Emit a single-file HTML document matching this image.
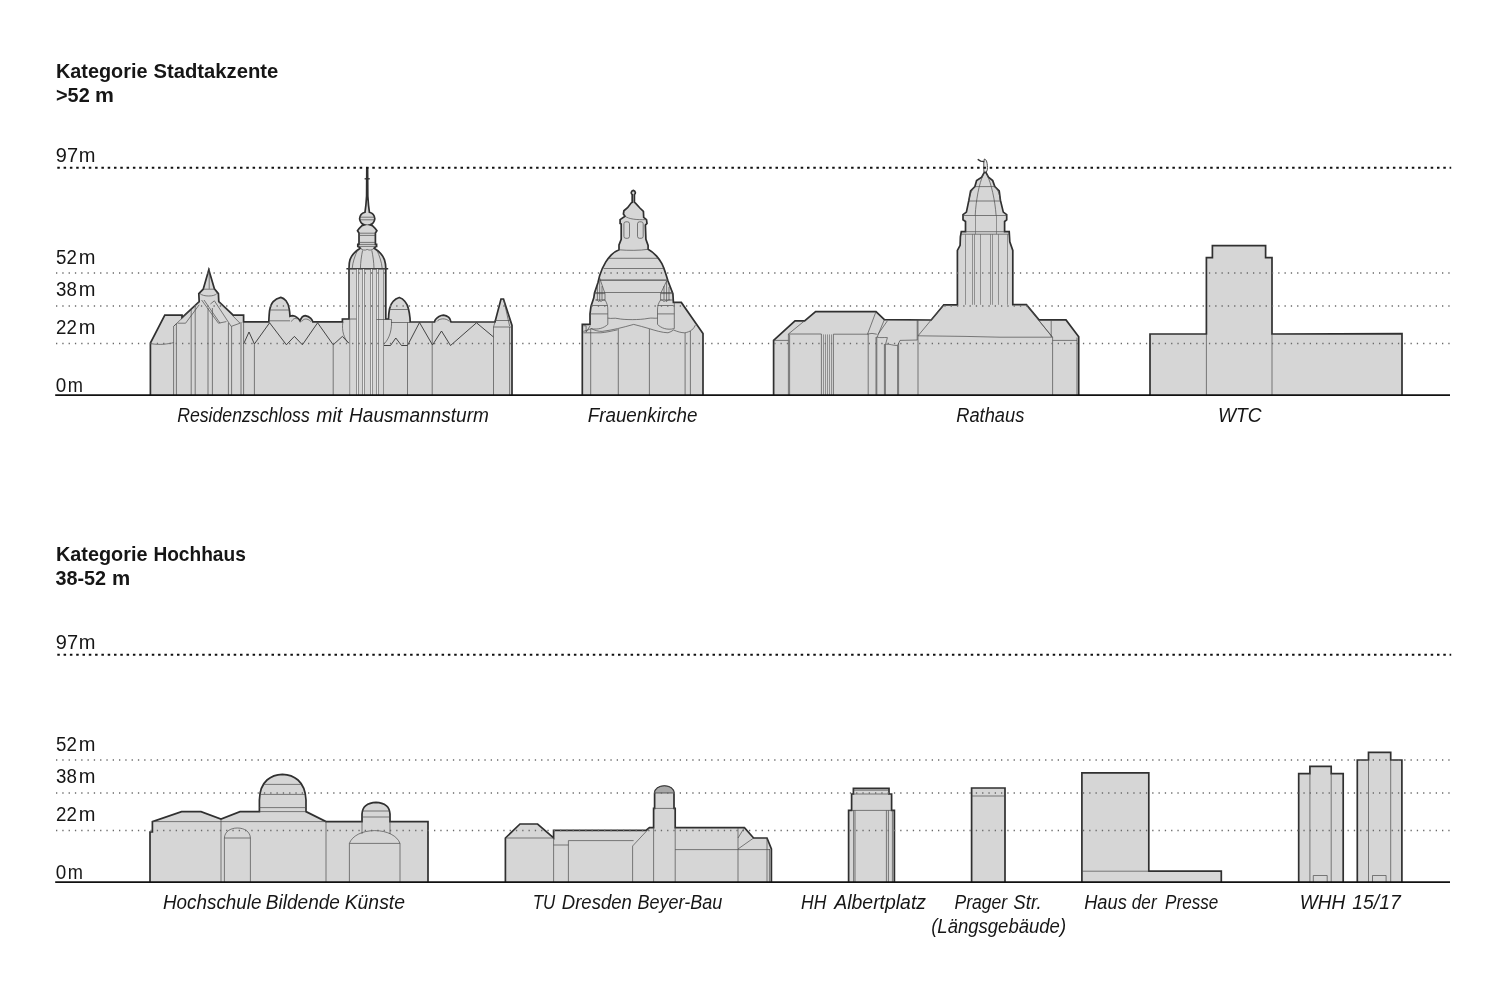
<!DOCTYPE html>
<html lang="de">
<head>
<meta charset="utf-8">
<title>Kategorie Stadtakzente / Hochhaus</title>
<style>
html,body{margin:0;padding:0;background:#fff;}
body{width:1500px;height:1000px;overflow:hidden;}
svg{display:block;}
text{font-family:"Liberation Sans",sans-serif;fill:#161616;}
.h{font-weight:bold;font-size:20.5px;}
.ax{font-size:20px;}
.lb{font-style:italic;font-size:19.5px;}
.o{fill:#d6d6d6;stroke:#303030;stroke-width:1.7;stroke-linejoin:miter;stroke-miterlimit:6;}
.i{fill:none;stroke:#4c4c4c;stroke-width:0.7;stroke-linejoin:round;}
.t{stroke-width:0.6;stroke:#606060;shape-rendering:crispEdges;}
.z{stroke-width:0.9;stroke:#333;}
.d1{stroke:#111;stroke-width:2;stroke-dasharray:2.5 3.8;fill:none;}
.d2{stroke:#6a6a6a;stroke-width:1.3;stroke-dasharray:1.3 5;fill:none;}
.g{stroke:#111;stroke-width:1.8;fill:none;}
</style>
</head>
<body>
<svg width="1500" height="1000" viewBox="0 0 1500 1000">
<rect width="1500" height="1000" fill="#fff"/>

<!-- ===== TEXT ===== -->
<text class="h" x="56" y="77.8" textLength="91.5" lengthAdjust="spacingAndGlyphs">Kategorie</text>
<text class="h" x="153.4" y="77.8" textLength="124.9" lengthAdjust="spacingAndGlyphs">Stadtakzente</text>
<text class="h" x="56" y="101.7" textLength="33.7" lengthAdjust="spacingAndGlyphs">&gt;52</text>
<text class="h" x="95" y="101.7" textLength="18.9" lengthAdjust="spacingAndGlyphs">m</text>
<text class="h" x="56" y="561" textLength="91.5" lengthAdjust="spacingAndGlyphs">Kategorie</text>
<text class="h" x="153.4" y="561" textLength="92.4" lengthAdjust="spacingAndGlyphs">Hochhaus</text>
<text class="h" x="55.4" y="584.6" textLength="50.7" lengthAdjust="spacingAndGlyphs">38-52</text>
<text class="h" x="112" y="584.6" textLength="18.2" lengthAdjust="spacingAndGlyphs">m</text>
<text class="ax" x="55.8" y="161.5" textLength="22.2" lengthAdjust="spacingAndGlyphs">97</text>
<text class="ax" x="78.8" y="161.5" textLength="16.7" lengthAdjust="spacingAndGlyphs">m</text>
<text class="ax" x="56" y="263.7" textLength="20.8" lengthAdjust="spacingAndGlyphs">52</text>
<text class="ax" x="78.7" y="263.7" textLength="16.7" lengthAdjust="spacingAndGlyphs">m</text>
<text class="ax" x="56" y="296.3" textLength="20.8" lengthAdjust="spacingAndGlyphs">38</text>
<text class="ax" x="78.7" y="296.3" textLength="16.7" lengthAdjust="spacingAndGlyphs">m</text>
<text class="ax" x="56" y="334" textLength="20.8" lengthAdjust="spacingAndGlyphs">22</text>
<text class="ax" x="78.7" y="334" textLength="16.7" lengthAdjust="spacingAndGlyphs">m</text>
<text class="ax" x="55.8" y="392.4" textLength="10.5" lengthAdjust="spacingAndGlyphs">0</text>
<text class="ax" x="67.8" y="392.4" textLength="15.2" lengthAdjust="spacingAndGlyphs">m</text>
<text class="ax" x="55.8" y="648.5" textLength="22.2" lengthAdjust="spacingAndGlyphs">97</text>
<text class="ax" x="78.8" y="648.5" textLength="16.7" lengthAdjust="spacingAndGlyphs">m</text>
<text class="ax" x="56" y="750.7" textLength="20.8" lengthAdjust="spacingAndGlyphs">52</text>
<text class="ax" x="78.7" y="750.7" textLength="16.7" lengthAdjust="spacingAndGlyphs">m</text>
<text class="ax" x="56" y="783.3" textLength="20.8" lengthAdjust="spacingAndGlyphs">38</text>
<text class="ax" x="78.7" y="783.3" textLength="16.7" lengthAdjust="spacingAndGlyphs">m</text>
<text class="ax" x="56" y="821" textLength="20.8" lengthAdjust="spacingAndGlyphs">22</text>
<text class="ax" x="78.7" y="821" textLength="16.7" lengthAdjust="spacingAndGlyphs">m</text>
<text class="ax" x="55.8" y="879.4" textLength="10.5" lengthAdjust="spacingAndGlyphs">0</text>
<text class="ax" x="67.8" y="879.4" textLength="15.2" lengthAdjust="spacingAndGlyphs">m</text>
<text class="lb" x="177.2" y="421.7" textLength="132.6" lengthAdjust="spacingAndGlyphs">Residenzschloss</text>
<text class="lb" x="316.3" y="421.7" textLength="26.0" lengthAdjust="spacingAndGlyphs">mit</text>
<text class="lb" x="349" y="421.7" textLength="139.9" lengthAdjust="spacingAndGlyphs">Hausmannsturm</text>
<text class="lb" x="587.7" y="421.7" textLength="109.8" lengthAdjust="spacingAndGlyphs">Frauenkirche</text>
<text class="lb" x="956.2" y="421.7" textLength="68.1" lengthAdjust="spacingAndGlyphs">Rathaus</text>
<text class="lb" x="1217.9" y="421.7" textLength="43.6" lengthAdjust="spacingAndGlyphs">WTC</text>
<text class="lb" x="163" y="908.6" textLength="98.4" lengthAdjust="spacingAndGlyphs">Hochschule</text>
<text class="lb" x="265.8" y="908.6" textLength="74.1" lengthAdjust="spacingAndGlyphs">Bildende</text>
<text class="lb" x="344.7" y="908.6" textLength="60.3" lengthAdjust="spacingAndGlyphs">Künste</text>
<text class="lb" x="532.8" y="908.6" textLength="22.5" lengthAdjust="spacingAndGlyphs">TU</text>
<text class="lb" x="561.8" y="908.6" textLength="70.1" lengthAdjust="spacingAndGlyphs">Dresden</text>
<text class="lb" x="637.4" y="908.6" textLength="84.9" lengthAdjust="spacingAndGlyphs">Beyer-Bau</text>
<text class="lb" x="801.1" y="908.6" textLength="25.3" lengthAdjust="spacingAndGlyphs">HH</text>
<text class="lb" x="834.3" y="908.6" textLength="91.7" lengthAdjust="spacingAndGlyphs">Albertplatz</text>
<text class="lb" x="954.5" y="908.6" textLength="52.7" lengthAdjust="spacingAndGlyphs">Prager</text>
<text class="lb" x="1013.3" y="908.6" textLength="28.3" lengthAdjust="spacingAndGlyphs">Str.</text>
<text class="lb" x="931.2" y="932.9" textLength="134.9" lengthAdjust="spacingAndGlyphs">(Längsgebäude)</text>
<text class="lb" x="1084.2" y="908.6" textLength="42.6" lengthAdjust="spacingAndGlyphs">Haus</text>
<text class="lb" x="1131.8" y="908.6" textLength="24.8" lengthAdjust="spacingAndGlyphs">der</text>
<text class="lb" x="1165.1" y="908.6" textLength="53.2" lengthAdjust="spacingAndGlyphs">Presse</text>
<text class="lb" x="1299.7" y="908.6" textLength="45.5" lengthAdjust="spacingAndGlyphs">WHH</text>
<text class="lb" x="1352.3" y="908.6" textLength="48.4" lengthAdjust="spacingAndGlyphs">15/17</text>

<!-- ===== SECTION 1 BUILDINGS ===== -->
<g id="s1">
<g id="schloss">
<path class="o" d="M150.4,395V343L164.8,315.2H182V317.6L199.2,301.6L198.8,293.6L203.2,289.2L208.8,269.8L214.4,288.8L218.4,293.6L218.8,301.6L233.2,315.2H243.6V321.8H268.8
C269,317 269.2,313.5 269.6,310.4C270.4,306 271.6,303.4 273.2,301.6C275.2,299.4 278,298 280.8,297.4C283,298 284.6,299.2 286,300.8C287.6,302.8 288.6,305.4 289.2,308.8C289.7,311.4 289.9,313.8 290,316.2
C291,315.8 291.8,315.6 292.6,315.6C294.4,315.8 295.9,316.5 297.2,317.6C298.4,318.5 299.3,319.6 300,320.8
C300.6,319.4 301.2,318.2 302,317.2C303,316.2 304.2,315.7 305.2,315.6C307.4,316 309.3,316.9 310.8,318.4C311.7,319.3 312.4,320.4 312.8,321.8
H342.4V319H349V268.4
C349,265 349.2,262.2 350,259.6C351.2,256.6 352.8,254.2 354.8,252.4C356.4,250.8 358.2,249.4 360.2,248.2
L358.2,246.4H357.8V244.4H359V233
L357.5,230.8C358.6,229 360.2,227.2 362,225.6L364.4,224.8
C362,224 360,221.6 359.6,218.8C359.8,215.4 362,213 365,212.2
C365.8,207 366.3,201 366.6,196L366.8,167.8H367.6L367.8,196
C368.1,201 368.6,207 369.4,212.2C372.4,213 374.6,215.4 374.8,218.8C374.4,221.6 372.4,224 370,224.8
L372.4,225.6C374.2,227.2 375.8,229 376.9,230.8L375.4,233V244.4H376.6V246.4H376.2L374.2,248.2
C376.2,249.4 378,250.8 379.6,252.4C381.6,254.2 383.2,256.6 384.4,259.6C385.2,262.2 385.8,265 385.8,268.4
V319H388.5C388.6,315 389,311.6 389.5,309C390.3,305.6 391.4,303.2 393,301.5C394.8,299.4 397,298.1 399.3,297.5C401.6,298.1 403.4,299.5 405,301.5C406.6,303.4 407.8,305.8 408.5,309C409.2,311.8 409.7,315 410,318L410.2,322H434.5
C434.7,321 435,320.2 435.5,319.5C436.5,318.2 437.7,317.2 439,316.5C440.4,315.8 441.9,315.3 443.5,315.2C445.4,315.5 447.1,316.1 448.5,317.2C449.4,318 450.1,319.2 450.5,320.5L451,322H495L501,299H503.5L512,325.5V395"/>
<path d="M346.4,268.8H388.2" stroke="#303030" stroke-width="1.5" fill="none"/>
<path d="M364.6,178.8H369.8" stroke="#303030" stroke-width="1.3" fill="none"/>
<!-- tower internals -->
<path d="M357.5,269.4V395M363.5,269.4V395M371.5,269.4V395M377.5,269.4V395" stroke="#e6e6e6" stroke-width="1" fill="none" shape-rendering="crispEdges"/>
<path class="i t" d="M356.5,269.4V395M358.5,269.4V395M362.5,269.4V395M364.5,269.4V395M370.5,269.4V395M372.5,269.4V395M376.5,269.4V395M378.5,269.4V395M383.5,269.4V395M349.7,319V395"/>
<path class="i" d="M348.2,268.6H386.2M359,244.4H375.4M358.2,246.4H376.2M359,233.2H375.4M359,235.4H375.4M359,242.4H375.4M360,217.2H374.4M360.2,219.8H374.2M364.4,224.8H370"/>
<path class="i" d="M360.2,248.2C362,250 365,250.8 367.2,249.4C369.4,250.8 372.4,250 374.2,248.2M357.6,250C354.8,256 352.8,262 352.2,268.4M362.6,250.4C361.4,256 360.6,262 360.4,268.4M371.8,250.4C373,256 373.8,262 374,268.4M376.8,250C379.6,256 381.6,262 382.2,268.4"/>
<path class="i" d="M342.4,319H356.3M376.5,319.5H391.5M342.8,322C341.6,331 344,338.6 348.8,343.2M391.5,319.5C392,329 390,338 384,344"/>
<!-- roof zig-zags -->
<path class="i z" d="M243.6,344L249,332L254.4,344L269.6,322.8L286.4,344.8L294.4,336.4L302.4,344.8L317.6,322.8L333.2,344.8L342.4,336.4L348.8,343.2"/>
<path class="i z" d="M384,345.5H390.5L395.8,338L401.5,345.5H407.5L419.5,322.5L432.5,345L441.5,331L450.5,345.5L476.5,322.8L493.5,337"/>
<path class="i" d="M241,322V395M243.6,321.8V395M254.4,344V395M333.2,344.8V395M407.5,322.5V395M432.2,322V395M493.5,327V395M509.6,327V395"/>
<!-- domes -->
<path class="i" d="M269.8,310H289.2M269,320.8H290M291.4,321.6C293,318.6 295.4,317.6 297.2,319.2M301.6,321.6C303.4,318.6 307.4,317.8 310.8,321.6M389.6,309.5H408.4M391,322.5H410M437,321.4C439,318.4 446,317.6 449.4,321.4"/>
<path class="i" d="M495,322L493.5,327H511.6M494.6,320.5H510.6M503.8,300L509.6,326"/>
<!-- left wing -->
<path class="i" d="M150.8,343.6C155,344.4 160,344.6 164,344.2C167.6,343.8 171,343.4 173.6,342.6M173.6,326.4V395M176.4,323.6V395M173.6,326.4L199.2,301.6M173.6,326.4L176.4,323.6M177.6,323.2H185.6L199.2,304.8M191.2,309.6V395M195.2,305.6V395M208,308V395M212.4,308V395M228.4,323V395M231.6,326.4V395"/>
<path class="i" d="M203.2,289.2H214.4M200,293.6C203,296.8 214.4,296.8 216.8,293.6M201.6,300L218.4,323.2L226.4,321.6M204,300L220,323.2M214.4,300.8L231.2,326.4L240,323.2M210.4,304L214.4,300.8M218.8,301.6L240,323.2M209.2,268V288.8"/>
</g>
<g id="frauenkirche">
<path class="o" d="M582.3,395V324.4H590V313.9L591,306.2L593.8,297.8L594.5,292.9L598,282.4L599.7,275.4
C601,271 603,266.6 605.8,261.9C607.6,259 609.4,256.8 611.3,254.8C613.6,252.6 616.2,251 619,249.8
V244.9L621.2,239.4V224L620.1,223.4V219.6L625,216.3L623.4,214.1L623.9,210.8L627.8,207.5L631.1,203.1
L632.2,202.4V194.6C630.8,193.6 630.8,191 633.3,190.4C635.8,191 635.8,193.6 634.4,194.6V202.4
L635.5,203.1L639.9,208L643.4,211.3L643.7,217.4L646.5,219.6L647,223.4L645.4,225.1L645.9,239.4L648.1,245.4V249.3
C651.2,251 653.8,253.2 656.4,255.9C658.6,258.4 660.4,261 661.9,263.6C663.4,266.6 664.6,270 665.7,273.5
L668,281L672.9,293.6L673.4,302.4H681.3L703,333.5V395"/>
<path class="i" d="M608.5,258.3H658M603.5,268.5H663.5M594.6,292.5H672.6M619,249.8C628,250.6 640,250.6 648.1,249.3M625,216.3C629,219 636,220 646.5,219.6"/>
<path d="M600,280.2H667.6" stroke="#555" stroke-width="1.3" fill="none"/>
<rect class="i" x="623.9" y="221.8" width="5.6" height="16.5" rx="2"/>
<rect class="i" x="637.5" y="221.8" width="5.7" height="16.5" rx="2"/>
<!-- left turret -->
<path class="i" d="M599.7,278.2L605,293.6V300C607,303 607.8,306 607.8,310V324.4C604,328 598,330 591,328.6M594.5,293.6H605M595.6,300H605M591,305.5H607.6M590,313.9H607.8M597.4,286V300M599.7,278.2V301M602,286V300M595.6,300C597,299.6 598,300.6 598.6,301.6C599.4,300.4 600.4,300.4 601,301.6C601.8,300.4 603.6,299.6 605,300"/>
<!-- right turret -->
<path class="i" d="M666.6,281L660.6,293.6V300C658.4,303 657.5,306 657.5,310V324.4C661,328 667,330.4 674.3,328.6M660.6,293.6H672.9M660.6,300H673.2M657.6,305.5H673.4M657.5,313.9H674.3M664,286V300M666.6,281V301M669,287V300M660.6,300C662,299.6 663.4,300.6 664,301.6C664.8,300.4 665.8,300.4 666.4,301.6C667.4,300.4 669,299.6 670.4,300M674.3,302.4V328.6"/>
<!-- wavy cornices -->
<path class="i" d="M607.8,318.1C612,319 614,317.6 618,318.6C624,320 640,320 648,318.4C652,317.6 654,318.6 657.5,318.1"/>
<path class="i" d="M583.3,331.4C586,330.8 588.6,329.8 591,328.6C595,330.4 598.6,331.6 602.2,331.4C607.6,330.6 612.6,329.8 617.6,328.6C623,327.4 628.6,325.8 633.7,324.4C639,325.6 644,327.2 649.1,328.6C655.6,330.6 662,332.6 668,332.8C670,332.2 671.8,331.2 673.6,330C677.4,331.6 681,332.8 684.8,332.8C687.4,332.4 689.8,331.4 691.8,330C693.4,328.6 694.6,327 695.4,325.1"/>
<path class="i" d="M583.3,332.8H600.8C606,332.4 612,331 617.6,329.8M583.3,325.8H586.1V332.2L590,326"/>
<path class="i" d="M590.7,329V395M618.3,329V395M649.4,329V395M685.1,333V395M690.4,331V395"/>
</g>
<g id="rathaus">
<path class="o" d="M773.6,395V340.4L795,320.8H804.6L815.6,311.6H876L884.4,319.6L931.2,320L943.8,304.8H957.4V250.4
L960.1,245.3L960.4,236.8L961.3,231.7H965.5V221.5L963,219.8V214.6L966.4,212.1L968.9,200.2L970.6,190.8L974.9,186.6L976.6,180.6L981.7,177.2L984.3,172.4H985.9
L988.5,177.2L992.7,180.6L994.8,186.6L999.2,190.8L1000.4,200.2L1003.3,212.1L1006.7,214.6V219.8L1004.6,221.5V231.7H1009.2L1009.8,241.9L1012.8,250.4
V304.6H1026.4L1039,319.9H1066L1078.7,336.8V395"/>
<path d="M1077,337.4V395" stroke="#8a8a8a" stroke-width="1.4" fill="none"/>
<!-- statue -->
<path d="M984.4,159C986.6,159.4 987.6,163 987.4,169.6L986.4,172H984L983.8,169.6V161.6Z" fill="#e8e8e8" stroke="#3a3a3a" stroke-width="0.9" stroke-linejoin="round"/>
<path d="M983.8,161.6L980.6,161.2L978.2,159.6" stroke="#333" stroke-width="1.4" fill="none" stroke-linecap="round"/>
<!-- tower -->
<path class="i" d="M961,234.2H1009.2M963,215.5H1006.7M969,201H1000.2M975,186.6H994.8M965.5,231.7H1004.6"/>
<path class="i t" d="M965.5,234.2V304.8M972.5,234.2V304.8M974.5,234.2V304.8M980.5,234.2V304.8M990.5,234.2V304.8M992.5,234.2V304.8M998.5,234.2V304.8M1007.5,234.2V304.8M975.5,215.5V234.2M996.5,215.5V234.2"/>
<path class="i" d="M975.2,215.5C976,200 979,184 983.4,174M996.1,215.5C995,200 991.4,184 986.8,174M968.9,200.2C970,194 972,189 974.9,186.6M1000.4,200.2C999.6,194 997.6,189 994.8,186.6"/>
<!-- main hall -->
<path class="i" d="M918,335.8L943.8,304.8M918,320V395M917.2,320V340M918,335.8L965,336.4L1000,337.2H1052.3L1026.4,304.6M1039,320.8L1052.3,336.8M1051.2,320.4V337M1052.6,337V395M1052.6,340.4H1077"/>
<!-- left wing -->
<path class="i" d="M773.6,340.4H788.4M788.4,334L804.6,320.8M788.4,334H821.4M833.4,334.2H868.2M788.4,334V395M789.6,334.6V395M821.4,334V395M833.4,334.2V395M868.2,334V395"/>
<path class="i t" d="M823.5,334.4V395M825.5,334.4V395M827.5,334.4V395M829.5,334.4V395M831.5,334.4V395"/>
<path class="i" d="M876,311.6L867.6,334M884.4,319.6L877.2,337M887.4,320.8L877.8,334.6M867.6,334L872,333.4L876.8,334.2M876,337V395M876.8,337V395M876.6,337C880,338.2 884,337.2 887.4,337.6L885.6,344.2C890,343.6 893.6,346 897.6,345.4L900,340.4L917.4,340M884.4,344V395M885.4,344V395M897.6,345.4V395M898.6,343V395"/>
</g>
<g id="wtc">
<path class="o" d="M1150,395V334H1206.4V257.6H1212.4V245.6H1265.6V257.6H1272V334L1402,333.6V395"/>
<path class="i" d="M1206.4,334V395M1272,334V395"/>
</g>
</g>

<!-- section 1 lines -->
<path class="d2" d="M56,273H1450M56,306H1450M56,343.5H1450"/>
<path class="d1" d="M57.3,167.7H1451.2"/>
<path class="g" d="M55.2,395.1H1450"/>



<!-- ===== SECTION 2 BUILDINGS ===== -->
<g id="s2">
<g id="hfbk">
<path class="o" d="M150,882V832H152.4V821.6L181.6,811.6H201L221,819L240,811.6H259.4V800C259.6,791 262.5,784 267,780C271,776.5 276,774.6 282.4,774.4C289,774.6 294,776.5 298,780C302.5,784 305.6,791 306,800V811.6L326,821.6H362V814C362.3,810 363.5,807.5 365.5,805.8C368.5,803.5 372,802.5 376,802.4C380,802.5 383.5,803.5 386.5,805.8C388.5,807.5 389.7,810 390,814V821.6H428V882"/>
<path class="i" d="M152.4,821.6H326M221,819V882M224.4,838V882M250.4,838V882M224.4,838H250.4M224.4,838C224.6,832 230,828 237.4,828C244.8,828 250.2,832 250.4,838M326,821.6V882"/>
<path class="i" d="M263.6,784.4H301.2M260,794.4H305M259.4,807.6H306M259.4,811.6H306"/>
<path class="i" d="M362.5,811H389.5M362,817H390M362,821.6V834M390,821.6V834"/>
<path class="i" d="M349.4,882V843.4H400V882M349.4,843.4C352,836 362,830.6 374.7,830.6C387.4,830.6 397.4,836 400,843.4"/>
</g>
<g id="beyer">
<path class="o" d="M505.4,882V838L520,824H537.6L553.6,838V830.4H646L649.4,827.6H653.6V808.4H654.6V793C655,789 659,786 664.4,786C669.8,786 673.6,789 674,793V808.4H675.2V827.6H744.4L753.6,838H767L771.4,849V882"/>
<path d="M654.6,793C655,789 659,786 664.4,786C669.8,786 673.6,789 674,793Z" fill="#a8a8a8" stroke="#303030" stroke-width="0.7"/>
<path class="i" d="M505.4,838H553.6V882M553.6,845H568.4M568.4,882V840.6H633.6M632.6,882V846L649.4,828M653.6,808.4H675.2M653.6,827.6V882M675.2,827.6V882"/>
<path class="i" d="M675.2,849.6H770M738,828V882M738,838L744.4,827.6M738,849L753.6,838M767,838V882M769.4,849V882"/>
</g>
<g id="albert">
<path class="o" d="M848.6,882V810.4H851.6V794H853.4V788.4H889V794H891.6V810.4H894.4V882"/>
<path class="i" d="M851.6,810.4H891.6M853.4,794H889M853.4,790.2H889M853.6,810.4V882M855,810.4V882M886.4,810.4V882M888.4,810.4V882M892.4,810.4V882"/>
</g>
<g id="prager">
<path class="o" d="M971.6,882V788H1005V882"/>
<path class="i" d="M971.6,796H1005"/>
</g>
<g id="presse">
<path class="o" d="M1081.9,882V772.8H1148.8V871.2H1221.3V882"/>
<path class="i" d="M1081.9,871.2H1148.8"/>
</g>
<g id="whh">
<path class="o" d="M1298.7,882V773.6H1309.9V766.4H1331.2V773.6H1343.2V882"/>
<path class="i" d="M1309.9,773.6V882M1331.2,773.6V882M1313.3,882V875.5H1327.2V882"/>
<path class="o" d="M1357.3,882V760H1368.5V752.3H1390.7V760H1401.9V882"/>
<path class="i" d="M1368.5,760V882M1390.7,760V882M1372.5,882V875.5H1386.1V882"/>
</g>
</g>

<!-- section 2 lines -->
<path class="d2" d="M56,760H1450M56,793H1450M56,830.5H1450"/>
<path class="d1" d="M57.3,654.7H1451.2"/>
<path class="g" d="M55.2,882.1H1450"/>

</svg>
</body>
</html>
